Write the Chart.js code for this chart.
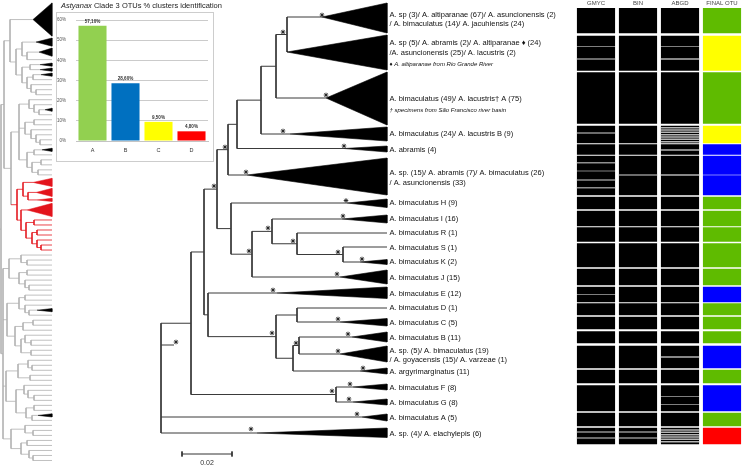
<!DOCTYPE html>
<html><head><meta charset="utf-8">
<script src="https://cdn.jsdelivr.net/npm/chart.js@4/dist/chart.umd.min.js"></script>
<style>
html,body{margin:0;padding:0;background:#fff;}
#wrap{position:relative;width:743px;height:465px;overflow:hidden;font-family:"Liberation Sans",Arial,sans-serif;background:#fff;}
canvas{position:absolute;}
#thumb{left:0;top:0;z-index:1;}
#tree{left:0;top:0;z-index:2;}
#otu{left:575px;top:0;z-index:2;}
#insetBox{position:absolute;left:56px;top:12px;width:156px;height:148px;border:1px solid #cdcdcd;background:#fff;z-index:3;}
#inset{left:0;top:0;}
#insetTitle{position:absolute;left:61px;top:1px;font-size:7.5px;color:#222;white-space:nowrap;z-index:4;}
</style></head>
<body>
<div id="wrap">
  <canvas id="thumb" width="56" height="465"></canvas>
  <canvas id="tree" width="575" height="465"></canvas>
  <canvas id="otu" width="168" height="465"></canvas>
  <div id="insetTitle"><i>Astyanax</i> Clade 3 OTUs % clusters identification</div>
  <div id="insetBox"><canvas id="inset" width="156" height="148"></canvas></div>
</div>
<script>
Chart.defaults.font.family = '"Liberation Sans", Arial, sans-serif';
Chart.defaults.animation = false;

// ================= INSET BAR CHART DATA =================
const insetCategories = ['A', 'B', 'C', 'D'];
const insetValues = [57.10, 28.60, 9.50, 4.80];
const insetColors = ['#92d050', '#0070c0', '#ffff00', '#ff0000'];
const insetTicks = [0, 10, 20, 30, 40, 50, 60];

// ================= MAIN TREE DATA (depth in substitutions/site, rows in figure layout units) =================
const internalNodes = ['root','NR1','NR2','NE','ND','NC','NB','NA','N12','NF','NG','NH','NI','NJ','NK2','NK','NL','NM','NN','NFG'];
const internalDepth = [0, 0.012, 0.0172, 0.0224, 0.0268, 0.0304, 0.040, 0.046, 0.0504, 0.028, 0.0364, 0.0444, 0.0544, 0.0728, 0.0188, 0.046, 0.0544, 0.0528, 0.0552, 0.070];
const internalChildren = [['NR1','A','elach'],['NR2','NFG'],['NE','NK2'],['ND','NF'],['NC','C6'],['NB','abramis'],['NA','C4'],['N12','C3'],['C1','C2'],['H','NG'],['NH','J'],['I','NI'],['R','NJ'],['S','K'],['E','NK'],['NL','NM'],['D','C'],['NN','arg'],['B','sp5'],['F','G']];

const leafIds = ['C1','C2','C3','C4','abramis','C6','H','I','R','S','K','J','E','D','C','B','sp5','arg','F','G','A','elach'];
const leafDepth = [0.0644, 0.0504, 0.066, 0.0516, 0.0732, 0.0344, 0.0744, 0.0724, null, null, 0.0796, 0.0716, 0.0464, null, 0.0716, 0.0764, 0.0716, 0.0796, 0.0768, 0.0768, 0.0804, 0.0384];
const leafRow = [17, 52, 98, 134, 148.5, 175, 203, 219, 233, 247, 262, 277, 293, 308, 322, 337, 354, 371, 387, 402, 417, 433];
const leafSpanTop = [3, 35, 72, 127, 146, 158, 199, 215, null, null, 259.5, 270, 287, null, 318.5, 332, 346, 368, 384, 399, 414, 428];
const leafSpanBottom = [33, 70, 125, 141, 152, 195, 207.5, 223, null, null, 264.5, 284, 298.5, null, 326, 342, 362, 374, 390, 405, 421, 437.5];
const tipDepth = 0.0904;
const rootStemRow = 345;
const rootStemDepth = 0.0052;

const supportDepth = [0.0644,0.0488,0.066,0.0488,0.0732,0.0256,0.0212,0.034,0.074,0.0728,0.0428,0.0528,0.0708,0.0804,0.0352,0.0704,0.0448,0.0708,0.0444,0.054,0.0748,0.0708,0.0808,0.0684,0.0756,0.0752,0.0784,0.036,0.006];
const supportRow   = [15,32,95,131,146,147,186,172,200.5,216,228,241,252,259,251,274,290,319,333,343,334,351,368,391,384,399,414,429,342];

const labelRows = [19.3, 48, 64, 99, 110, 134, 150, 178, 203, 219, 233, 248, 262, 278, 294, 308, 323, 338, 355.5, 372, 388, 403, 418, 434];
const labelTexts = [
  ['A. sp (3)/ A. altiparanae (67)/ A. asuncionensis (2)', '/ A. bimaculatus (14)/ A. jacuhiensis (24)'],
  ['A. sp (5)/ A. abramis (2)/ A. altiparanae \u2666 (24)', '/A. asuncionensis (25)/ A. lacustris (2)'],
  '\u2666 A. altiparanae from Rio Grande River',
  'A. bimaculatus (49)/ A. lacustris\u2020 A (75)',
  '\u2020 specimens from S\u00e3o Francisco river basin',
  'A. bimaculatus (24)/ A. lacustris B (9)',
  'A. abramis (4)',
  ['A. sp. (15)/ A. abramis (7)/ A. bimaculatus (26)', '/ A. asuncionensis (33)'],
  'A. bimaculatus H (9)', 'A. bimaculatus I (16)', 'A. bimaculatus R (1)', 'A. bimaculatus S (1)',
  'A. bimaculatus K (2)', 'A. bimaculatus J (15)', 'A. bimaculatus E (12)', 'A. bimaculatus D (1)',
  'A. bimaculatus C (5)', 'A. bimaculatus B (11)',
  ['A. sp. (5)/ A. bimaculatus (19)', '/ A. goyacensis (15)/ A. varzeae (1)'],
  'A. argyrimarginatus (11)', 'A. bimaculatus F (8)', 'A. bimaculatus G (8)', 'A. bimaculatus A (5)',
  'A. sp. (4)/ A. elachylepis (6)'
];
const labelIsNote = [false,false,true,false,true,false,false,false,false,false,false,false,false,false,false,false,false,false,false,false,false,false,false,false];

const scaleBarStart = 0.0084;
const scaleBarLength = 0.02;
const scaleBarRow = 454;
const scaleBarLabel = '0.02';
const scaleBarLabelRow = 463;

// ================= OTU DELIMITATION PANEL DATA =================
const otuMethods = ['GMYC', 'BIN', 'ABGD', 'FINAL OTU'];
const otuBlocks = [[8,33],[36,70.5],[72.5,123.3],[126,143],[144.7,154.3],[156,195],[197,209],[211,226],[227.5,241.5],[243.5,267],[269,285],[287,302],[303.5,315],[317,329],[331.5,343],[346,368],[370,383],[385.5,411],[413,426],[428,444]];
const otuFinalColors = ['green','yellow','green','yellow','blue','blue','green','green','green','green','green','blue','green','green','green','blue','green','blue','green','red'];
const otuGapsGMYC = [46.2, 171, 294.3];
const otuGapsBIN = [];
const otuGapsABGD = [46.2, 396.7, 404.7];
const otuGapsFINAL = [175];
const otuLinesGMYC = [59, 133, 162.7, 180, 187.7, 432, 438];
const otuLinesBIN = [175, 432, 438];
const otuLinesABGD = [59, 127.7, 130, 132.3, 134.7, 137, 139.3, 141.7, 150, 175, 357, 430, 432.3, 434.7, 437, 439.3, 441.7];
const otuLinesFINAL = [];

// ================= THUMBNAIL TREE (whole-tree overview) =================
const thumbTopBlack = "(K7:23,((K2:14,(K2:12,t):5):6,((K1:10,K1:10):8,((K1:8,t):6,(t,(t,t):5):4):5):6):6)";
const thumbMidGray = "((t,(t,(K1:6,t):5):5):10,((t,t):9,(t,(t,(t,t):4):5):6):6,((K1:8,t):7,((t,t):9,(t,t):6):5):8)";
const thumbRed = "((R2:10,(R2:8,R1:9):5):6,(R3:6,((r,r):8,((r,r):5,(r,(r,r):4):5):6):5):4)";
const thumbLower = "(((t,(t,t):6):12,((t,t):8,(t,(t,t):4):6):10):6,(((t,t):6,(t,(K1:8,t):4):6):12,(((t,t):10,t):8,((t,(t,t):6):4,(t,t):10):6):8):4,(((t,(t,t):4):10,(t,t):12):12,((t,(t,(t,t):6):4):8,((t,t):8,(K1:6,t):6):10):10):3,((t,(t,t):8):14,((t,t):6,(t,(t,t):4):8):10):8)";
const thumbNewick = "((" + thumbTopBlack + ":6,(" + thumbMidGray + ":8," + thumbRed + ":6):7):3," + thumbLower + ":2)";
const thumbRootX = 1;
const thumbTipX = 52;

// ================= helpers =================
const leafIndex = Object.fromEntries(leafIds.map((id, i) => [id, i]));
const intIndex = Object.fromEntries(internalNodes.map((id, i) => [id, i]));
function nodeY(id) {
  if (id in leafIndex) return leafRow[leafIndex[id]];
  const ch = internalChildren[intIndex[id]];
  return (nodeY(ch[0]) + nodeY(ch[ch.length - 1])) / 2;
}
function nodeX(id) {
  if (id in leafIndex) { const d = leafDepth[leafIndex[id]]; return d === null ? tipDepth : d; }
  return internalDepth[intIndex[id]];
}

// ---------------- main tree ----------------
const branchPts = [];
internalNodes.forEach((id, i) => {
  const x = internalDepth[i];
  const ch = internalChildren[i];
  branchPts.push({x, y: nodeY(ch[0])}, {x, y: nodeY(ch[ch.length - 1])}, {x, y: null});
  ch.forEach(c => {
    const cy = nodeY(c);
    branchPts.push({x, y: cy}, {x: nodeX(c), y: cy}, {x: nodeX(c), y: null});
  });
});
branchPts.push({x: 0, y: rootStemRow}, {x: rootStemDepth, y: rootStemRow}, {x: rootStemDepth, y: null});

const wedgePts = [];
leafIds.forEach((id, i) => {
  if (leafDepth[i] === null) return;
  wedgePts.push({x: leafDepth[i], y: leafRow[i]}, {x: tipDepth, y: leafSpanTop[i]},
                {x: tipDepth, y: leafSpanBottom[i]}, {x: leafDepth[i], y: leafRow[i]}, {x: tipDepth, y: null});
});
const starPts = supportDepth.map((d, i) => ({x: d, y: supportRow[i]}));
const sbEnd = scaleBarStart + scaleBarLength;
const scaleBarPts = [
  {x: scaleBarStart, y: scaleBarRow}, {x: sbEnd, y: scaleBarRow}, {x: sbEnd, y: null},
  {x: scaleBarStart, y: scaleBarRow - 2.5}, {x: scaleBarStart, y: scaleBarRow + 2.5}, {x: scaleBarStart, y: null},
  {x: sbEnd, y: scaleBarRow - 2.5}, {x: sbEnd, y: scaleBarRow + 2.5}
];

const scaleBarText = {
  id: 'scaleBarText',
  afterDatasetsDraw(chart) {
    const {ctx, scales} = chart;
    ctx.save();
    ctx.font = '7px "Liberation Sans", Arial, sans-serif';
    ctx.fillStyle = '#333';
    ctx.textAlign = 'center';
    ctx.textBaseline = 'middle';
    ctx.fillText(scaleBarLabel, scales.x.getPixelForValue(scaleBarStart + scaleBarLength / 2), scales.y.getPixelForValue(scaleBarLabelRow));
    ctx.restore();
  }
};

new Chart(document.getElementById('tree'), {
  type: 'line',
  data: {
    datasets: [
      {label: 'support', type: 'scatter', data: starPts, pointStyle: 'star', pointRadius: 2.3, pointHoverRadius: 2.3, borderColor: '#222', borderWidth: 0.9, backgroundColor: '#222', order: 0},
      {label: 'branches', data: branchPts, borderColor: '#3a3a3a', borderWidth: 1, pointRadius: 0, pointHoverRadius: 0, fill: false, spanGaps: false, tension: 0, order: 2},
      {label: 'clades', data: wedgePts, borderColor: '#000', borderWidth: 0.6, backgroundColor: '#000', pointRadius: 0, pointHoverRadius: 0, fill: 'shape', spanGaps: false, tension: 0, order: 1},
      {label: 'scale', data: scaleBarPts, borderColor: '#333', borderWidth: 1, pointRadius: 0, pointHoverRadius: 0, fill: false, spanGaps: false, order: 1}
    ]
  },
  options: {
    responsive: false,
    animation: false,
    events: [],
    layout: {autoPadding: false, padding: {left: 150, top: 0, right: 0, bottom: 0}},
    plugins: {legend: {display: false}, tooltip: {enabled: false}, title: {display: false}},
    scales: {
      x: {type: 'linear', min: -0.0044, max: 0.0908, display: false},
      y: {type: 'linear', min: 0, max: 465, reverse: true, display: false},
      yLab: {
        type: 'linear', position: 'right', min: 0, max: 465, reverse: true,
        afterFit(s) { s.width = 187; s.paddingTop = 0; s.paddingBottom = 0; },
        afterBuildTicks(s) { s.ticks = labelRows.map(v => ({value: v})); },
        grid: {display: false, drawTicks: false},
        border: {display: false},
        ticks: {
          autoSkip: false, padding: 1.5, color: '#111',
          callback: (v, i) => labelTexts[i],
          font: (c) => labelIsNote[c.index]
            ? {size: 6, style: 'italic', lineHeight: 1.2}
            : {size: 7.5, lineHeight: 1.27}
        }
      }
    }
  },
  plugins: [scaleBarText]
});

// ---------------- OTU panel ----------------
const colorMap = {green: '#5fbb00', yellow: '#ffff00', blue: '#0000ff', red: '#ff0000'};
const otuGaps = [otuGapsGMYC, otuGapsBIN, otuGapsABGD, otuGapsFINAL];
const otuLines = [otuLinesGMYC, otuLinesBIN, otuLinesABGD, otuLinesFINAL];
const blockData = [], blockColors = [], lineData = [], lineColors = [];
otuMethods.forEach((m, mi) => {
  otuBlocks.forEach((b, bi) => {
    const cuts = otuGaps[mi].filter(g => g > b[0] && g < b[1]).sort((a, c) => a - c);
    let start = b[0];
    const color = mi === 3 ? colorMap[otuFinalColors[bi]] : '#000';
    cuts.forEach(g => { blockData.push({x: m, y: [start, g - 0.6]}); blockColors.push(color); start = g + 0.6; });
    blockData.push({x: m, y: [start, b[1]]}); blockColors.push(color);
  });
  otuLines[mi].forEach(v => { lineData.push({x: m, y: [v - 0.45, v + 0.45]}); lineColors.push(mi === 2 ? '#b5b5b5' : '#8f8f8f'); });
});

new Chart(document.getElementById('otu'), {
  type: 'bar',
  data: {
    labels: otuMethods,
    datasets: [
      {label: 'lines', data: lineData, backgroundColor: lineColors, borderWidth: 0, grouped: false, barThickness: 37.5, order: 0},
      {label: 'blocks', data: blockData, backgroundColor: blockColors, borderWidth: 0, grouped: false, barThickness: 37.5, order: 1}
    ]
  },
  options: {
    responsive: false, animation: false, events: [],
    layout: {autoPadding: false, padding: 0},
    plugins: {legend: {display: false}, tooltip: {enabled: false}},
    scales: {
      x: {type: 'category', position: 'top', grid: {display: false, drawTicks: false}, border: {display: false},
          ticks: {font: {size: 6}, color: '#444', padding: 1, autoSkip: false, maxRotation: 0},
          afterFit(s) { s.height = 8; }},
      y: {type: 'linear', min: 8, max: 465, reverse: true, display: false}
    }
  }
});

// ---------------- Inset bar chart ----------------
const barValueLabels = {
  id: 'barValueLabels',
  afterDatasetsDraw(chart) {
    const ctx = chart.ctx;
    const meta = chart.getDatasetMeta(0);
    ctx.save();
    ctx.font = 'bold 4.6px "Liberation Sans", Arial, sans-serif';
    ctx.fillStyle = '#333';
    ctx.textAlign = 'center';
    ctx.textBaseline = 'bottom';
    meta.data.forEach((bar, i) => {
      ctx.fillText(insetValues[i].toFixed(2).replace('.', ',') + '%', bar.x, bar.y - 2.2);
    });
    ctx.restore();
  }
};
new Chart(document.getElementById('inset'), {
  type: 'bar',
  data: {labels: insetCategories, datasets: [{data: insetValues, backgroundColor: insetColors, borderWidth: 0, barPercentage: 0.85, categoryPercentage: 1}]},
  options: {
    responsive: false, animation: false, events: [],
    layout: {autoPadding: false, padding: {top: 7, right: 5, left: 0, bottom: 0}},
    plugins: {legend: {display: false}, tooltip: {enabled: false}},
    scales: {
      x: {grid: {display: false, drawTicks: false}, border: {display: true, color: '#c4c4c4'},
          ticks: {font: {size: 5.5}, color: '#333', padding: 6},
          afterFit(s) { s.height = 20; }},
      y: {min: 0, max: 60,
          afterBuildTicks(s) { s.ticks = insetTicks.map(v => ({value: v})); },
          ticks: {callback: v => v + '%', font: {size: 4.5}, color: '#555', padding: 10},
          grid: {color: '#cbcbcb', drawTicks: false, lineWidth: 1},
          border: {display: false},
          afterFit(s) { s.width = 19; s.paddingTop = 2; s.paddingBottom = 2; }}
    }
  },
  plugins: [barValueLabels]
});

// ---------------- Thumbnail tree ----------------
function parseNewick(s) {
  let i = 0;
  function node() {
    const n = {children: [], name: '', len: 0};
    if (s[i] === '(') {
      i++;
      n.children.push(node());
      while (s[i] === ',') { i++; n.children.push(node()); }
      i++;
    } else {
      const st = i;
      while (i < s.length && !',):'.includes(s[i])) i++;
      n.name = s.slice(st, i);
    }
    if (s[i] === ':') {
      i++;
      const st = i;
      while (i < s.length && !',)'.includes(s[i])) i++;
      n.len = parseFloat(s.slice(st, i));
    }
    return n;
  }
  return node();
}
const thumbRoot = parseNewick(thumbNewick);
let rowCursor = 0;
function layoutThumb(n, x) {
  n.x = x;
  if (!n.children.length) {
    const rows = n.name.length > 1 ? parseFloat(n.name.slice(1)) : 1;
    n.red = n.name[0] === 'r' || n.name[0] === 'R';
    n.tri = n.name[0] === 'K' || n.name[0] === 'R';
    n.top = rowCursor + 0.18; n.bottom = rowCursor + rows - 0.18;
    n.y = rowCursor + rows / 2;
    rowCursor += rows;
    n.end = n.tri ? x : thumbTipX;
    return;
  }
  n.children.forEach(c => layoutThumb(c, x + c.len));
  n.y = (n.children[0].y + n.children[n.children.length - 1].y) / 2;
  n.red = n.children.every(c => c.red);
}
layoutThumb(thumbRoot, thumbRootX);
const totalRows = rowCursor;
const thumbGray = [], thumbRedPts = [], thumbBlackTri = [], thumbRedTri = [];
function walkThumb(n) {
  if (!n.children.length) {
    if (n.tri) {
      (n.red ? thumbRedTri : thumbBlackTri).push({x: n.x, y: n.y}, {x: thumbTipX, y: n.top}, {x: thumbTipX, y: n.bottom}, {x: n.x, y: n.y}, {x: n.x, y: null});
    }
    return;
  }
  const arr = n.red ? thumbRedPts : thumbGray;
  arr.push({x: n.x, y: n.children[0].y}, {x: n.x, y: n.children[n.children.length - 1].y}, {x: n.x, y: null});
  n.children.forEach(c => {
    const a = c.red ? thumbRedPts : thumbGray;
    const endX = c.children.length ? c.x : c.end;
    a.push({x: n.x, y: c.y}, {x: endX, y: c.y}, {x: endX, y: null});
    walkThumb(c);
  });
}
walkThumb(thumbRoot);
thumbGray.push({x: 0, y: thumbRoot.y}, {x: thumbRootX, y: thumbRoot.y});

new Chart(document.getElementById('thumb'), {
  type: 'line',
  data: {
    datasets: [
      {data: thumbBlackTri, borderColor: '#000', borderWidth: 0.5, backgroundColor: '#000', fill: 'shape', pointRadius: 0, pointHoverRadius: 0, spanGaps: false},
      {data: thumbRedTri, borderColor: '#e3141c', borderWidth: 0.5, backgroundColor: '#e3141c', fill: 'shape', pointRadius: 0, pointHoverRadius: 0, spanGaps: false},
      {data: thumbRedPts, borderColor: '#e3141c', borderWidth: 0.8, pointRadius: 0, pointHoverRadius: 0, fill: false, spanGaps: false},
      {data: thumbGray, borderColor: '#b0b0b0', borderWidth: 0.8, pointRadius: 0, pointHoverRadius: 0, fill: false, spanGaps: false}
    ]
  },
  options: {
    responsive: false, animation: false, events: [],
    layout: {autoPadding: false, padding: 0},
    plugins: {legend: {display: false}, tooltip: {enabled: false}},
    scales: {
      x: {type: 'linear', min: 0, max: 56, display: false},
      y: {type: 'linear', min: -0.4, max: totalRows + 0.4, reverse: true, display: false}
    }
  }
});
</script>
</body></html>
